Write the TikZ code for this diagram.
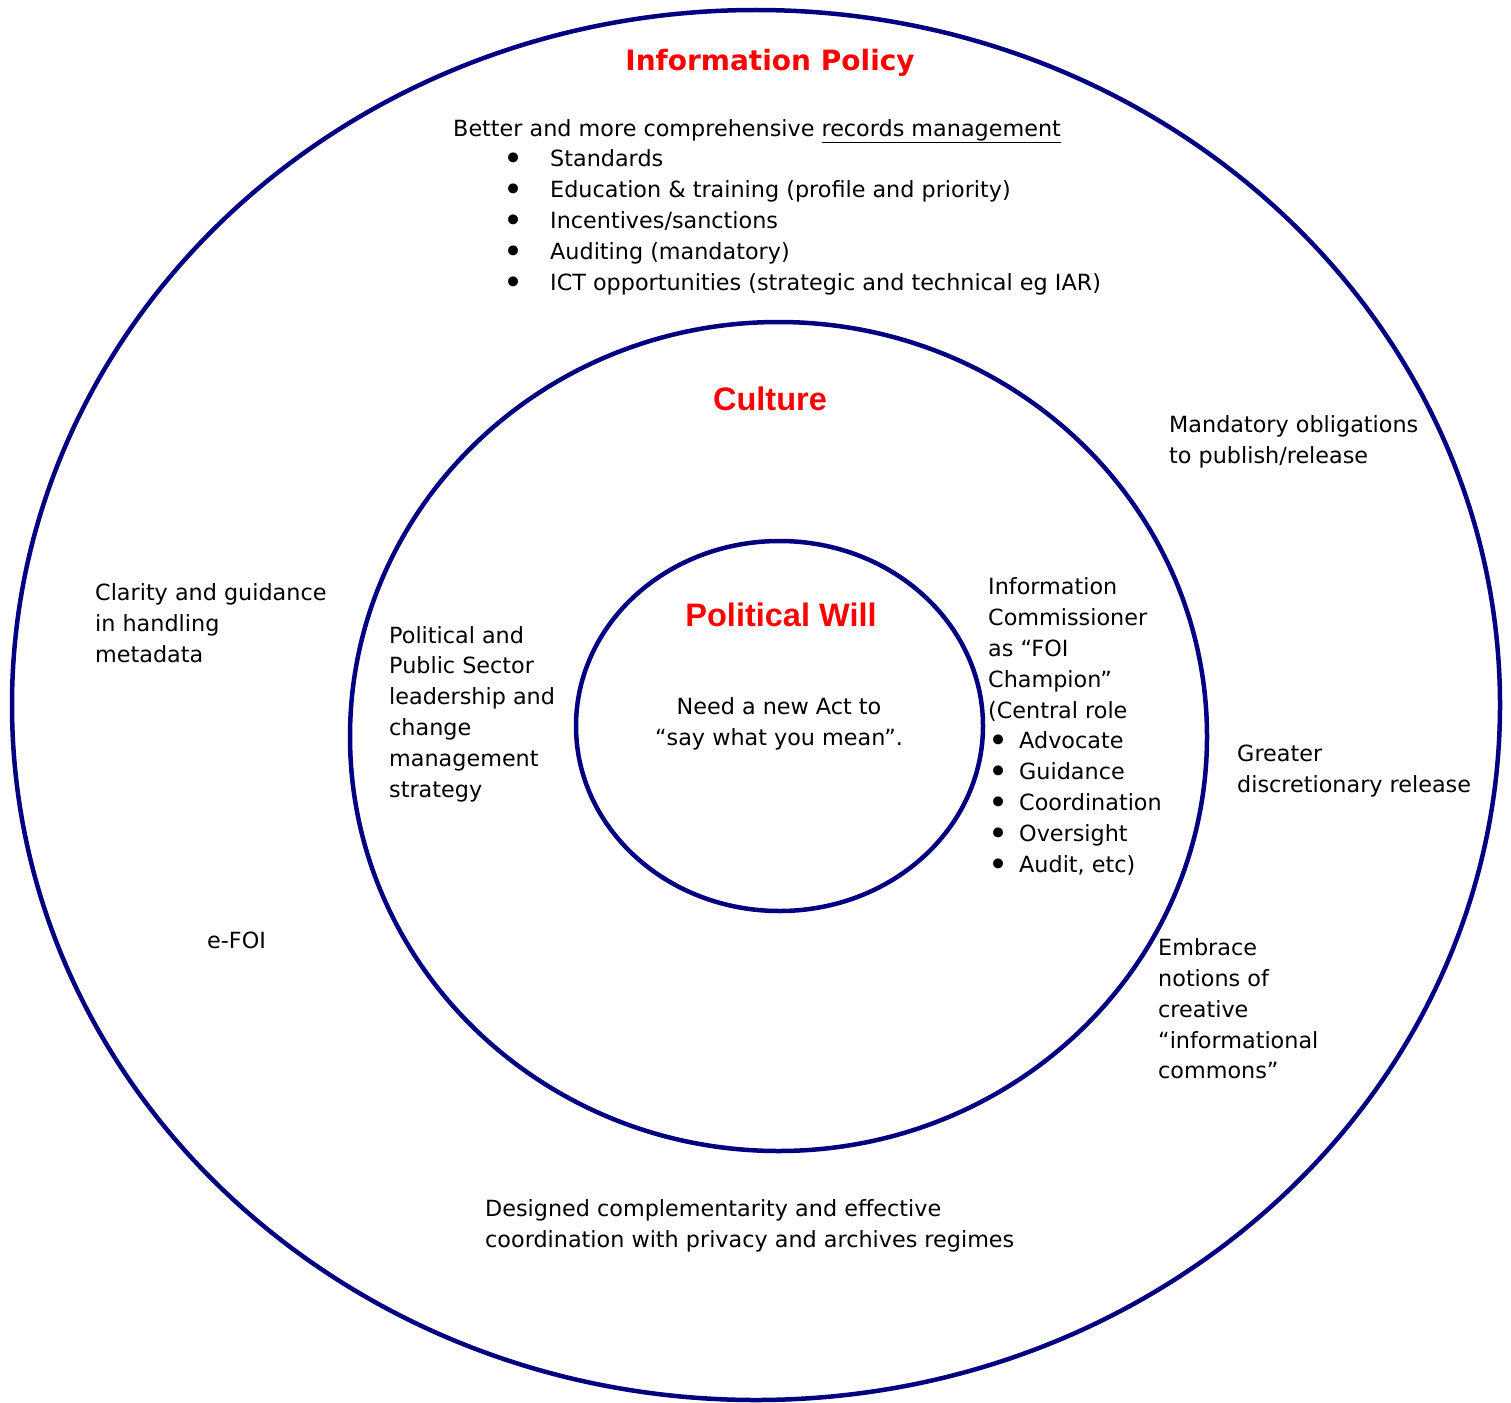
\documentclass[tikz,border=0pt]{standalone}
\usepackage{fontspec}
\setmainfont{DejaVu Sans}
\newfontfamily\titlefont{Liberation Sans}
\usepackage{tikz}
\usetikzlibrary{positioning}
\definecolor{ringblue}{RGB}{0,0,128}
\definecolor{titlered}{RGB}{255,0,0}
\tikzset{ring/.style={draw=ringblue,line width=4.5pt}}
\tikzset{txt/.style={inner sep=0pt,align=left,anchor=west,font=\fontsize{22.3}{30.8}\selectfont}}
\tikzset{ttl/.style={inner sep=0pt,text=titlered,font=\fontsize{28}{34}\selectfont\bfseries}}
\tikzset{ttlb/.style={ttl,font=\fontsize{32.5}{38}\selectfont\titlefont\bfseries}}
\newcommand{\bul}[1]{\makebox[#1][l]{{\fontsize{34}{30}\selectfont\raisebox{-4pt}{\textbullet}}}}

\begin{document}
\begin{tikzpicture}[x=1pt,y=-1pt]
                \useasboundingbox (0,0) rectangle (1511,1402);
                % rings
                \coordinate (c1) at (756,705);
                \coordinate (c2) at (778.5,736.5);
                \coordinate (c3) at (779.5,726);
                \draw[ring] (c1) ellipse [x radius=744,y radius=695];
                \draw[ring] (c2) ellipse [x radius=428.5,y radius=414.5];
                \draw[ring] (c3) ellipse [x radius=203.5,y radius=185];
                % titles
                \node[ttl] (ip) at (770,63) {Information Policy};
                \node[ttlb] (cu) at (770,399) {Culture};
                \node[ttlb] (pw) at (781,615) {Political Will};
                % outer ring texts
                \node[txt] (rm) at (453,207) {Better and more comprehensive \underline{records management}\\
                    \hspace*{50pt}\bul{47pt}Standards\\
                    \hspace*{50pt}\bul{47pt}Education \& training (profile and priority)\\
                    \hspace*{50pt}\bul{47pt}Incentives/sanctions\\
                    \hspace*{50pt}\bul{47pt}Auditing (mandatory)\\
                    \hspace*{50pt}\bul{47pt}ICT opportunities (strategic and technical eg IAR)};
                \node[txt] (mo) at (1169,442) {Mandatory obligations\\to publish/release};
                \node[txt] (cg) at (95,623) {Clarity and guidance\\in handling\\metadata};
                \node[txt] (gd) at (1237,771) {Greater\\discretionary release};
                \node[txt] (ef) at (207,940) {e-FOI};
                \node[txt] (em) at (1158,1009) {Embrace\\notions of\\creative\\“informational\\commons”};
                \node[txt] (dc) at (485,1226) {Designed complementarity and effective\\coordination with privacy and archives regimes};
                % middle ring texts
                \node[txt] (ps) at (389,714) {Political and\\Public Sector\\leadership and\\change\\management\\strategy};
                \node[txt] (ic) at (988,727) {Information\\Commissioner\\as “FOI\\Champion”\\(Central role\\
                    \bul{31pt}Advocate\\
                    \bul{31pt}Guidance\\
                    \bul{31pt}Coordination\\
                    \bul{31pt}Oversight\\
                    \bul{31pt}Audit, etc)};
                % inner ring text
                \node[txt,align=center,anchor=center] (na) at (779,724) {Need a new Act to\\“say what you mean”.};
            \end{tikzpicture}
\end{document}
